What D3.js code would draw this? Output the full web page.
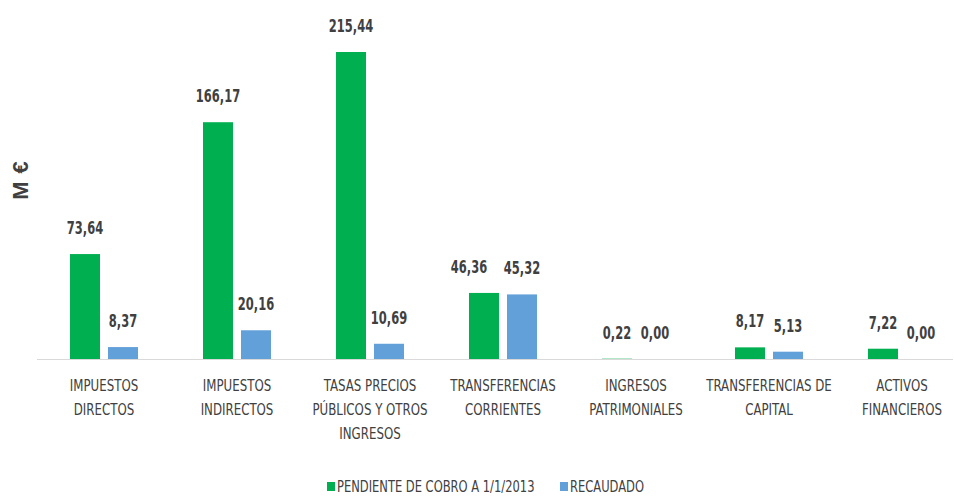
<!DOCTYPE html>
<head>
  <meta charset="utf-8" />
  <script src="https://cdn.jsdelivr.net/npm/d3@7"></script>
  <style>
    body {
      margin: 0;
      background-color: #fff;
    }
    text {
      font-family: "DejaVu Sans Condensed", "DejaVu Sans", sans-serif;
      font-stretch: condensed;
      fill: #404040;
    }
    .val {
      font-size: 18px;
      font-weight: bold;
    }
    .cat {
      font-size: 16px;
    }
  </style>
</head>

<body>
  <script>
    var categories = [
      ["IMPUESTOS", "DIRECTOS"],
      ["IMPUESTOS", "INDIRECTOS"],
      ["TASAS PRECIOS", "PÚBLICOS Y OTROS", "INGRESOS"],
      ["TRANSFERENCIAS", "CORRIENTES"],
      ["INGRESOS", "PATRIMONIALES"],
      ["TRANSFERENCIAS DE", "CAPITAL"],
      ["ACTIVOS", "FINANCIEROS"]
    ];
    var seriesNames = ["PENDIENTE DE COBRO A 1/1/2013", "RECAUDADO"];
    var pendiente = [73.64, 166.17, 215.44, 46.36, 0.22, 8.17, 7.22];
    var recaudado = [8.37, 20.16, 10.69, 45.32, 0.0, 5.13, 0.0];
    var colors = ["#00b050", "#62a0da"];

    var width = 954,
      height = 496,
      base = 359,
      valSx = 0.71, // squeeze to mimic the narrow font of the original
      catSx = 0.82;

    var svg = d3
      .select("body")
      .append("svg")
      .attr("width", width)
      .attr("height", height);

    var idx = d3.range(categories.length);
    var x0 = d3.scaleBand().domain(idx).range([37.5, 968.5]);
    var x1 = d3
      .scaleBand()
      .domain([0, 1])
      .range([32.5, 100.5])
      .paddingInner(8 / 38);
    var y = d3.scaleLinear().domain([0, 215.44]).range([base, 52]);

    // baseline
    svg
      .append("line")
      .attr("x1", 37)
      .attr("x2", 953)
      .attr("y1", base + 0.5)
      .attr("y2", base + 0.5)
      .attr("stroke", "#d9d9d9")
      .attr("stroke-width", 1);

    var fmt = d => d.toFixed(2).replace(".", ",");

    // two tall bars of about the same height: push the first label aside
    function shift(i, s) {
      var p = pendiente[i], r = recaudado[i];
      if (s == 0 && Math.min(p, r) > 20 && Math.abs(y(p) - y(r)) < 15) return -15;
      return 0;
    }

    [pendiente, recaudado].forEach(function(vals, s) {
      var g = svg.append("g");
      g.selectAll("rect")
        .data(vals)
        .enter()
        .append("rect")
        .attr("x", (d, i) => x0(i) + x1(s))
        .attr("width", x1.bandwidth())
        .attr("y", d => y(d))
        .attr("height", d => base - y(d))
        .attr("fill", colors[s]);

      g.selectAll("text")
        .data(vals)
        .enter()
        .append("text")
        .attr("class", "val")
        .attr("text-anchor", "middle")
        .attr("transform", (d, i) =>
          "translate(" + (x0(i) + x1(s) + x1.bandwidth() / 2 + shift(i, s)) + "," +
          (y(d) - 20) + ") scale(" + valSx + ",1)")
        .text(fmt);
    });

    // category labels
    var cats = svg
      .append("g")
      .selectAll("text")
      .data(categories)
      .enter()
      .append("text")
      .attr("class", "cat")
      .attr("text-anchor", "middle")
      .attr("transform", (d, i) =>
        "translate(" + (x0(i) + x0.bandwidth() / 2) + ",391) scale(" + catSx + ",1)");
    cats
      .selectAll("tspan")
      .data(d => d)
      .enter()
      .append("tspan")
      .attr("x", 0)
      .attr("dy", (d, i) => (i ? 24 : 0))
      .text(d => d);

    // y label
    svg
      .append("text")
      .attr("transform", "translate(28,180) rotate(-90)")
      .attr("text-anchor", "middle")
      .style("font-family", "Liberation Sans, Arial, sans-serif")
      .style("font-stretch", "normal")
      .style("font-weight", "bold")
      .style("font-size", "22px")
      .style("letter-spacing", "1px")
      .text("M €");

    // legend
    var legX = [327, 560];
    var leg = svg
      .append("g")
      .selectAll("g")
      .data(seriesNames)
      .enter()
      .append("g")
      .attr("transform", (d, i) => "translate(" + legX[i] + ",482)");
    leg
      .append("rect")
      .attr("width", 8)
      .attr("height", 9)
      .attr("fill", (d, i) => colors[i]);
    leg
      .append("text")
      .attr("class", "cat")
      .attr("transform", "translate(10,10) scale(0.8,1)")
      .text(d => d);
  </script>
</body>
